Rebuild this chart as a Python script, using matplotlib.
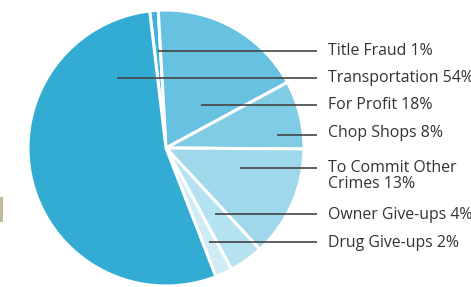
import matplotlib
matplotlib.use("Agg")
import matplotlib.pyplot as plt
from matplotlib.patches import Rectangle

categories = ["Title Fraud", "For Profit", "Chop Shops", "To Commit Other\nCrimes",
              "Owner Give-ups", "Drug Give-ups", "Transportation"]
values = [1, 18, 8, 13, 4, 2, 54]
colors = ["#3db3da", "#66c2e0", "#80cce5", "#9fd8ea", "#b5e2f0", "#cfebf5", "#33acd3"]

label_text = ["Title Fraud 1%", "Transportation 54%", "For Profit 18%", "Chop Shops 8%",
              "To Commit Other\nCrimes 13%", "Owner Give-ups 4%", "Drug Give-ups 2%"]
# leader lines: (start x, y) in pixel coords (y from top)
line_start_x = [158, 117, 201, 277, 240, 215, 209]
line_y = [51, 78, 105, 135, 168, 214, 242]
text_y = [51, 78, 105, 133, 176, 215, 243]

W, H = 471, 287
fig = plt.figure(figsize=(W / 100, H / 100), dpi=100)
ax = fig.add_axes([0, 0, 1, 1])

cx, cy, r = 166, H - 148, 138
ax.pie(values, colors=colors, startangle=96.8, counterclock=False,
       center=(cx, cy), radius=r,
       wedgeprops=dict(edgecolor="white", linewidth=2.2), frame=True)
ax.set_xlim(0, W)
ax.set_ylim(0, H)
ax.set_aspect("equal")
ax.axis("off")

for xs, ly, ty, t in zip(line_start_x, line_y, text_y, label_text):
    ax.plot([xs, 317], [H - ly, H - ly], color="#444444", lw=1.2, solid_capstyle="butt")
    ax.text(328, H - ty, t, fontsize=11.4, family="Open Sans", color="#333333",
            va="center", ha="left", linespacing=0.92)

ax.add_patch(Rectangle((0, H - 222), 3, 25, color="#c2b89a", lw=0))

fig.savefig("out.png", dpi=100)
